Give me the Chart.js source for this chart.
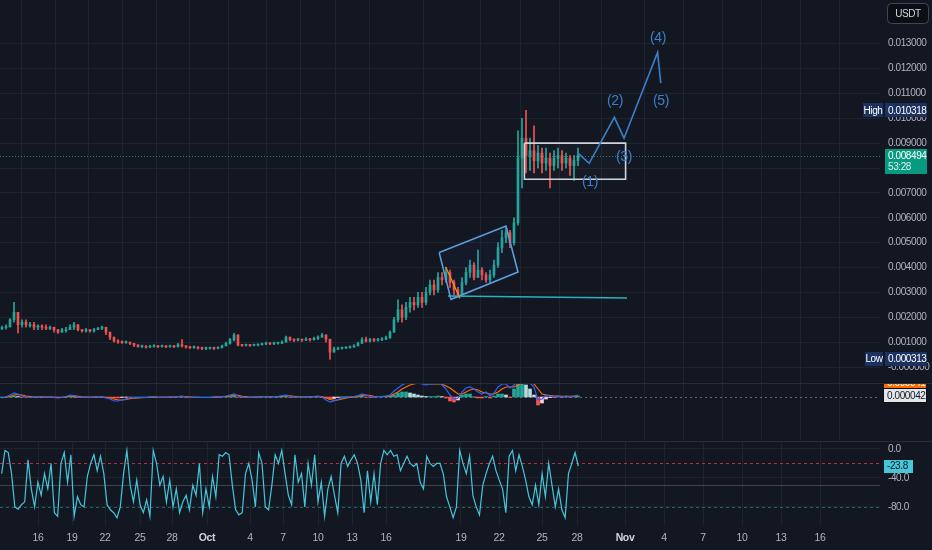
<!DOCTYPE html>
<html>
<head>
<meta charset="utf-8">
<title>USDT chart</title>
<script src="https://cdn.jsdelivr.net/npm/chart.js@4.4.1/dist/chart.umd.min.js"></script>
<style>
html, body { margin: 0; padding: 0; background: #131722; }
#wrap { position: relative; width: 932px; height: 550px; overflow: hidden; background: #131722; }
.pane { position: absolute; left: 0; width: 932px; }
.sep { position: absolute; left: 0; width: 932px; height: 1px; background: #2a2e39; }
</style>
</head>
<body>
<div id="wrap">
  <div class="pane" style="top:0;height:383px"><canvas id="priceChart"></canvas></div>
  <div class="pane" style="top:383px;height:58px"><canvas id="macdChart"></canvas></div>
  <div class="pane" style="top:441px;height:109px"><canvas id="wprChart"></canvas></div>
  <div class="sep" style="top:383px"></div>
  <div class="sep" style="top:441px"></div>
</div>
<script>
// candles, one per bar index (open = previous close)
const firstOpen = 0.00155;
const candleClose = [
  0.00158,0.00162,0.0019,0.0022,0.0017,0.0018,0.0017,0.0017,0.0016,0.00165,
  0.0016,0.00155,0.0016,0.0015,0.0014,0.0015,0.0015,0.0016,0.0017,0.0015,
  0.00145,0.0015,0.00145,0.0015,0.00155,0.0016,0.0014,0.0012,0.00105,0.001,
  0.00098,0.001,0.00095,0.00088,0.00082,0.00083,0.0008,0.00082,0.00085,0.00082,
  0.00084,0.00081,0.00083,0.00082,0.0009,0.00085,0.0008,0.00078,0.0008,0.00076,
  0.00074,0.00075,0.00076,0.00075,0.00078,0.00085,0.00095,0.0011,0.00128,0.00088,
  0.00087,0.00088,0.00087,0.00088,0.0009,0.00092,0.00095,0.00093,0.00095,0.00096,
  0.001,0.0012,0.0011,0.00108,0.0011,0.00108,0.00112,0.0011,0.00115,0.0012,
  0.00128,0.00112,0.0006,0.00072,0.00075,0.00076,0.00078,0.0008,0.00085,0.00095,
  0.0011,0.00105,0.0011,0.00108,0.0011,0.00112,0.00118,0.0014,0.0019,0.0023,
  0.002,0.0024,0.0026,0.0025,0.0028,0.0026,0.003,0.0033,0.0031,0.0036,
  0.0035,0.0038,0.0034,0.0031,0.0029,0.0034,0.0038,0.0041,0.0036,0.0039,
  0.0037,0.0035,0.0037,0.0041,0.0048,0.0052,0.0054,0.005,0.0058,0.0084,
  0.0092,0.0085,0.0087,0.0083,0.0086,0.0082,0.0084,0.0081,0.0084,0.0085,
  0.0082,0.0084,0.0081,0.0083,0.008494
];
const candleHigh = [
  0.00165,0.0017,0.00195,0.0026,0.0022,0.0019,0.0019,0.0018,0.0018,0.0017,
  0.0017,0.0017,0.00165,0.0016,0.0015,0.00155,0.0016,0.0017,0.0018,0.0017,
  0.0015,0.00155,0.0015,0.00155,0.0016,0.00165,0.0016,0.0014,0.0012,0.0011,
  0.00105,0.00105,0.001,0.00095,0.0009,0.00088,0.00086,0.00087,0.0009,0.00087,
  0.00088,0.00086,0.00088,0.00087,0.00095,0.0011,0.00086,0.00083,0.00085,0.00082,
  0.0008,0.0008,0.0008,0.0008,0.00082,0.00088,0.001,0.00115,0.00135,0.0013,
  0.0009,0.00092,0.0009,0.00092,0.00093,0.00096,0.001,0.00098,0.001,0.001,
  0.00105,0.00124,0.0012,0.00113,0.00115,0.00112,0.00118,0.00115,0.0012,0.00125,
  0.00135,0.0013,0.0011,0.0008,0.0008,0.0008,0.00082,0.00085,0.0009,0.001,
  0.00118,0.0012,0.00115,0.00114,0.00115,0.00118,0.00124,0.00145,0.002,0.0027,
  0.0025,0.0026,0.0028,0.0028,0.003,0.003,0.0032,0.0035,0.0035,0.0038,
  0.0038,0.004,0.0039,0.0035,0.0032,0.0036,0.004,0.0043,0.0042,0.0047,
  0.004,0.0038,0.0039,0.0043,0.005,0.0055,0.0056,0.0055,0.006,0.0095,
  0.01,0.010318,0.0092,0.0097,0.0089,0.0088,0.0088,0.0086,0.0087,0.0088,
  0.0087,0.0086,0.0085,0.0085,0.0088
];
const candleLow = [
  0.0015,0.00152,0.0016,0.0018,0.00137,0.0016,0.0016,0.0016,0.0015,0.0015,
  0.0015,0.0015,0.0015,0.0014,0.00135,0.0014,0.0014,0.0015,0.0015,0.00145,
  0.0014,0.0014,0.0014,0.0014,0.0015,0.0015,0.0013,0.0011,0.001,0.00095,
  0.00095,0.00095,0.0009,0.00082,0.0008,0.00078,0.00076,0.00078,0.0008,0.00078,
  0.0008,0.00078,0.0008,0.00078,0.0008,0.0008,0.00076,0.00074,0.00075,0.00072,
  0.0007,0.0007,0.00072,0.0007,0.00073,0.00076,0.00085,0.00092,0.00105,0.00085,
  0.00083,0.00084,0.00083,0.00085,0.00085,0.00088,0.0009,0.0009,0.0009,0.00092,
  0.00094,0.001,0.00105,0.00102,0.00105,0.00103,0.00106,0.00104,0.00108,0.0011,
  0.0012,0.001,0.000313,0.0006,0.0007,0.00072,0.00074,0.00076,0.0008,0.00085,
  0.00095,0.001,0.001,0.00102,0.00104,0.00106,0.0011,0.00115,0.0014,0.0018,
  0.0018,0.0019,0.0022,0.0023,0.0024,0.0024,0.0025,0.0029,0.0029,0.003,
  0.0033,0.0034,0.0032,0.0029,0.0028,0.0029,0.0033,0.0036,0.0035,0.0036,
  0.0035,0.0034,0.0034,0.0036,0.004,0.0046,0.005,0.0048,0.0049,0.0057,
  0.0072,0.0078,0.0079,0.0078,0.008,0.0078,0.0079,0.0072,0.0079,0.008,
  0.0079,0.008,0.0077,0.0075,0.0081
];

// MACD pane, values in 1e-5 USDT
const macdLine = [
  -4,0,8,16,12,4,0,-2,0,2, 0,-2,0,-2,-4,-2,2,8,6,0,
  -2,0,-2,0,2,0,-4,-8,-16,-16, -12,-8,-4,-4,-2,-2,-2,0,0,-2,
  0,-2,0,0,2,4,0,-2,-2,-2, -2,-2,-2,0,0,2,4,8,12,4,
  0,-2,-2,0,0,2,2,0,2,2, 6,8,4,0,0,0,2,0,2,4,
  0,-12,-20,-16,-10,-4,0,0,2,6, 12,8,2,0,2,2,4,8,24,36,
  48,56,60,60,56,52,48,52,52,56, 48,32,8,-8,-4,20,36,40,32,20,
  12,20,4,16,40,52,52,36,48,64, 68,64,56,40,-12,-8,8,4,2,4,
  0,4,2,4,8
];
const signalLine = [
  -2,-1,2,8,10,8,4,2,0,0, 0,0,0,-1,-2,-2,0,4,5,3,
  0,0,-1,0,0,0,-2,-4,-8,-12, -12,-10,-7,-5,-4,-3,-2,-1,0,-1,
  -1,-1,0,0,1,2,1,0,-1,-1, -2,-2,-2,-1,0,1,2,4,8,7,
  3,1,-1,0,0,1,1,1,1,2, 3,5,5,3,1,0,1,1,1,2,
  1,-4,-10,-13,-12,-8,-4,-2,0,2, 6,8,6,3,2,2,3,4,12,20,
  32,40,48,52,56,56,52,52,52,52, 52,44,36,24,12,12,20,28,32,28,
  20,16,12,12,20,32,40,40,40,48, 56,60,60,52,32,12,8,6,4,4,
  3,3,3,3,4
];
const macdHist = [
  0,1,2,4,2,-1,-1,0,0,1, 0,-1,0,-1,-1,0,1,2,1,-1,
  -1,0,-1,0,1,0,-1,-2,-4,-4, -2,-1,-1,0,0,0,0,1,0,-1,
  0,-1,0,0,1,1,-1,-1,0,0, 0,0,0,1,0,1,1,2,4,-1,
  -1,-1,0,0,0,1,1,-1,1,0, 2,2,-1,-1,0,0,1,-1,1,2,
  -1,-4,-8,-6,-2,1,1,1,2,2, 4,-1,-1,-1,0,0,1,4,8,16,
  20,20,16,12,8,4,2,2,2,4, 2,-4,-16,-20,-12,8,12,12,0,-4,
  -4,2,-4,4,12,12,8,-2,32,52, 52,48,32,8,-32,-24,-8,-2,-2,2,
  -2,2,-1,1,4
];
const macdLastLabel = '0.000042';
const macdSignalLabel = '0.000041';

// Williams %R pane
const wpr = [
  -34,-2,-5,-34,-80,-83,-77,-73,-15,-55, -80,-46,-64,-34,-55,-20,-88,-93,-20,-5,
  -46,-8,-93,-66,-77,-80,-38,-20,-8,-30, -10,-34,-77,-84,-88,-95,-80,-34,-2,-50,
  -73,-43,-77,-88,-70,-93,-2,-20,-50,-38, -73,-43,-80,-55,-88,-73,-64,-84,-50,-64,
  -20,-88,-55,-80,-38,-66,-8,-10,-5,-8, -50,-84,-91,-88,-34,-20,-43,-80,-5,-20,
  -80,-84,-50,-8,-20,-2,-34,-64,-77,-8, -46,-34,-80,-20,-50,-8,-73,-46,-93,-55,
  -38,-64,-88,-20,-10,-24,-15,-8,-20,-43, -88,-30,-73,-34,-77,-20,-2,-8,-2,-10,
  -8,-30,-20,-10,-20,-24,-20,-46,-55,-10, -20,-24,-20,-20,-34,-66,-80,-95,-80,-2,
  -20,-34,-10,-64,-80,-91,-50,-34,-20,-10, -30,-43,-55,-88,-10,-2,-30,-8,-24,-43,
  -66,-77,-50,-77,-34,-66,-20,-50,-80,-55, -84,-95,-34,-20,-5,-23.8
];
const wprTicks = [0, -40, -80];
const wprBands = [-20, -50, -80];

// time axis (bar index positions)
const dateLabels = ['16','19','22','25','28','Oct','4','7','10','13','16','19','22','25','28','Nov','4','7','10','13','16'];
const datePos = [9,17.5,25.75,34.5,42.5,51.25,62,70.25,79,87.5,96,114.75,124.25,135,143.75,155.75,165.5,175.25,185,194.75,204.5];
const monthLabels = ['Oct', 'Nov'];

const priceTicks = [-1e-12,0.001,0.002,0.003,0.004,0.005,0.006,0.007,0.008,0.009,0.01,0.011,0.012,0.013];
const countdown = '53:28';

// drawings
const waveX = [144, 146.8, 153.1, 155.5, 163.9, 164.7];
const waveY = [0.0086, 0.00819, 0.01004, 0.0092, 0.01265, 0.01141];
const waveLabels = ['(1)', '(2)', '(3)', '(4)', '(5)'];
const waveLabelX = [147, 153.25, 155.5, 164, 164.75];
const waveLabelY = [0.00744, 0.0107, 0.00842, 0.01323, 0.0107];
const rangeX = [130.6, 155.9];
const rangeY = [0.009, 0.00755];
const channelX = [109.3, 126, 129, 112.25];
const channelY = [0.0046, 0.00567, 0.00382, 0.00272];
const supportX = [111.5, 156.25];
const supportY = [0.002855, 0.002774];
const dropX = [110.9, 114.5];
const dropY = [0.00403, 0.00276];

const FONT = '"Liberation Sans", Arial, sans-serif';
const GRID = '#1f232e';
const UP = '#26a69a', DOWN = '#ef5350';
const WAVE = '#3a80c9';
const NAVY = '#1c3160';
const X_MIN = -0.5, X_MAX = 219.5;

Chart.defaults.font.family = FONT;
Chart.defaults.font.size = 10;
Chart.defaults.color = '#b2b5be';
Chart.defaults.animation = false;

const candleOpen = candleClose.map((c, i) => i ? candleClose[i - 1] : firstOpen);
const candleColor = candleClose.map((c, i) => c >= candleOpen[i] ? UP : DOWN);
const lastPrice = candleClose[candleClose.length - 1];
const highValue = Math.max(...candleHigh);
const lowValue = Math.min(...candleLow);

function pts(xs, ys, close) {
  const p = xs.map((x, i) => ({ x: x, y: ys[i] }));
  if (close) p.push({ x: xs[0], y: ys[0] });
  return p;
}
function rectPts(xs, ys) {
  return [
    { x: xs[0], y: ys[0] }, { x: xs[1], y: ys[0] }, { x: xs[1], y: ys[1] },
    { x: xs[0], y: ys[1] }, { x: xs[0], y: ys[0] }
  ];
}

// tighter letter spacing, closer to the narrow axis font of the original
const tightText = {
  id: 'tightText',
  beforeDraw(chart) { chart.ctx.letterSpacing = '-0.4px'; }
};

function xScale(showLabels) {
  return {
    type: 'linear', min: X_MIN, max: X_MAX, offset: false,
    border: { display: false },
    grid: { color: GRID, drawTicks: false },
    ticks: {
      display: showLabels, padding: 7, autoSkip: false, maxRotation: 0,
      callback: (v, i) => dateLabels[i],
      color: c => monthLabels.includes(dateLabels[c.index]) ? '#d1d4dc' : '#b2b5be',
      font: c => ({ family: FONT, size: 10.5, weight: monthLabels.includes(dateLabels[c.index]) ? 'bold' : 'normal' })
    },
    afterBuildTicks: s => { s.ticks = datePos.map(v => ({ value: v })); },
    afterFit: s => { s.height = showLabels ? 25 : 0; s.paddingLeft = 0; s.paddingRight = 0; }
  };
}
function yScale(min, max, ticks, fmt) {
  return {
    position: 'right', min: min, max: max,
    border: { display: false },
    grid: { color: GRID, drawTicks: false, display: !!ticks },
    ticks: { display: !!ticks, padding: 8, callback: v => fmt ? fmt(v) : '' },
    afterBuildTicks: s => { if (ticks) s.ticks = ticks.map(v => ({ value: v })); },
    afterFit: s => { s.width = 52; s.paddingTop = 0; s.paddingBottom = 0; }
  };
}

function tag(ctx, x, yc, w, h, bg, fg, text, align) {
  ctx.fillStyle = bg;
  ctx.fillRect(x, Math.round(yc - h / 2), w, h);
  ctx.fillStyle = fg;
  ctx.textBaseline = 'middle';
  ctx.textAlign = align || 'left';
  ctx.fillText(text, align === 'center' ? x + w / 2 : x + 3, yc + 0.5);
}

const basePlugins = { legend: { display: false }, tooltip: { enabled: false } };

// ---------- price pane ----------
const mainOverlay = {
  id: 'mainOverlay',
  beforeDatasetsDraw(chart) {
    const { ctx, chartArea: a, scales: { y } } = chart;
    const py = Math.round(y.getPixelForValue(lastPrice)) + 0.5;
    ctx.save();
    ctx.strokeStyle = 'rgba(38,166,154,0.7)';
    ctx.lineWidth = 1;
    ctx.setLineDash([1, 2]);
    ctx.beginPath(); ctx.moveTo(a.left, py); ctx.lineTo(a.right, py); ctx.stroke();
    ctx.restore();
  },
  afterDraw(chart) {
    const { ctx, chartArea: a, scales: { x, y } } = chart;
    const R = a.right;
    ctx.save();
    ctx.font = '14px ' + FONT;
    ctx.fillStyle = WAVE;
    ctx.textAlign = 'center';
    ctx.textBaseline = 'middle';
    waveLabels.forEach((t, k) => {
      ctx.fillText(t, x.getPixelForValue(waveLabelX[k]), y.getPixelForValue(waveLabelY[k]));
    });

    ctx.font = '10px ' + FONT;
    const hy = y.getPixelForValue(highValue);
    tag(ctx, R - 17, hy, 20, 14, NAVY, '#ffffff', 'High', 'center');
    tag(ctx, R + 5, hy, 42, 14, NAVY, '#ffffff', highValue.toFixed(6));
    const ly = y.getPixelForValue(lowValue);
    tag(ctx, R - 15, ly, 18, 14, NAVY, '#ffffff', 'Low', 'center');
    tag(ctx, R + 5, ly, 42, 14, NAVY, '#ffffff', lowValue.toFixed(6));

    const py = y.getPixelForValue(lastPrice);
    ctx.fillStyle = '#089981';
    ctx.fillRect(R + 5, Math.round(py - 7), 42, 25);
    ctx.fillStyle = '#ffffff';
    ctx.textAlign = 'left';
    ctx.fillText(lastPrice.toFixed(6), R + 8, py + 0.5);
    ctx.fillStyle = '#d8f3ee';
    ctx.fillText(countdown, R + 8, py + 11.5);

    // currency box
    ctx.fillStyle = '#0c0e15';
    ctx.strokeStyle = '#434651';
    ctx.lineWidth = 1;
    ctx.beginPath();
    ctx.roundRect(R + 7.5, 3.5, 41, 20, 4);
    ctx.fill(); ctx.stroke();
    ctx.fillStyle = '#d1d4dc';
    ctx.textAlign = 'center';
    ctx.font = '10px ' + FONT;
    ctx.fillText('USDT', R + 28, 14);
    ctx.restore();
  }
};

new Chart(document.getElementById('priceChart'), {
  type: 'bar',
  data: {
    datasets: [
      { type: 'line', data: pts(waveX, waveY), borderColor: WAVE, borderWidth: 1.6, pointRadius: 0, tension: 0, fill: false, order: 0 },
      { type: 'line', data: rectPts(rangeX, rangeY), borderColor: '#d1d4dc', borderWidth: 1.6, pointRadius: 0, tension: 0,
        fill: 'shape', backgroundColor: 'rgba(255,255,255,0.02)', order: 1 },
      { type: 'line', data: pts(channelX, channelY, true), borderColor: '#5b9fdc', borderWidth: 1.6, pointRadius: 0, tension: 0,
        fill: 'shape', backgroundColor: 'rgba(41,98,255,0.04)', order: 1 },
      { type: 'line', data: pts(supportX, supportY), borderColor: '#27b3bd', borderWidth: 1.6, pointRadius: 0, tension: 0, fill: false, order: 1 },
      { type: 'line', data: pts(dropX, dropY), borderColor: '#ff9800', borderWidth: 1.2, pointRadius: 0, tension: 0, fill: false, order: 2 },
      { type: 'bar', data: candleClose.map((c, i) => ({ x: i, y: [candleOpen[i], c] })),
        backgroundColor: candleColor, barThickness: 2, minBarLength: 1, grouped: false, order: 5 },
      { type: 'bar', data: candleClose.map((c, i) => ({ x: i, y: [candleLow[i], candleHigh[i]] })),
        backgroundColor: candleColor, barThickness: 1, grouped: false, order: 6 }
    ]
  },
  options: {
    responsive: true, maintainAspectRatio: false, animation: false,
    layout: { padding: 0 },
    plugins: basePlugins,
    scales: {
      x: xScale(false),
      y: yScale(-16 / 24870, 367 / 24870, priceTicks, v => v.toFixed(6))
    }
  },
  plugins: [tightText, mainOverlay]
});

// ---------- MACD pane ----------
const histColor = macdHist.map((h, i) => {
  const prev = i ? macdHist[i - 1] : 0;
  if (h >= 0) return h >= prev ? '#26a69a' : '#b2dfdb';
  return h <= prev ? '#ff5252' : '#ffcdd2';
});
const macdOverlay = {
  id: 'macdOverlay',
  beforeDatasetsDraw(chart) {
    const { ctx, chartArea: a, scales: { y } } = chart;
    const zy = Math.round(y.getPixelForValue(0)) + 0.5;
    ctx.save();
    ctx.strokeStyle = 'rgba(120,123,134,0.8)';
    ctx.setLineDash([2, 3]);
    ctx.beginPath(); ctx.moveTo(a.left, zy); ctx.lineTo(a.right, zy); ctx.stroke();
    ctx.restore();
  },
  afterDraw(chart) {
    const { ctx, chartArea: a, scales: { y } } = chart;
    const R = a.right;
    ctx.save();
    ctx.font = '10px ' + FONT;
    const wy = y.getPixelForValue(4.2);
    tag(ctx, R + 4, wy - 13, 42, 13, '#ff6d00', '#ffffff', macdSignalLabel);
    ctx.fillStyle = '#0b0d13';
    ctx.fillRect(R + 3, Math.round(wy - 7.5), 44, 15);
    tag(ctx, R + 4, wy, 42, 13, '#e3e6ea', '#131722', macdLastLabel);
    ctx.restore();
  }
};
new Chart(document.getElementById('macdChart'), {
  type: 'bar',
  data: {
    datasets: [
      { type: 'line', data: macdLine.map((v, i) => ({ x: i, y: v })), borderColor: '#2962ff', borderWidth: 1.2, pointRadius: 0, tension: 0, order: 0 },
      { type: 'line', data: signalLine.map((v, i) => ({ x: i, y: v })), borderColor: '#ff6d00', borderWidth: 1.2, pointRadius: 0, tension: 0, order: 1 },
      { type: 'bar', data: macdHist.map((v, i) => ({ x: i, y: v })), backgroundColor: histColor, barThickness: 3, grouped: false, order: 2 }
    ]
  },
  options: {
    responsive: true, maintainAspectRatio: false, animation: false,
    layout: { padding: 0 },
    plugins: basePlugins,
    scales: { x: xScale(false), y: yScale(-176, 56, null, null) }
  },
  plugins: [tightText, macdOverlay]
});

// ---------- Williams %R pane ----------
const wprStep = candleClose.length / wpr.length;
const wprOverlay = {
  id: 'wprOverlay',
  beforeDatasetsDraw(chart) {
    const { ctx, chartArea: a, scales: { y } } = chart;
    const styles = [
      { c: 'rgba(242,54,69,0.75)', d: [3, 3] },
      { c: 'rgba(120,123,134,0.45)', d: [] },
      { c: 'rgba(38,166,154,0.55)', d: [3, 3] }
    ];
    ctx.save();
    wprBands.forEach((b, k) => {
      const by = Math.round(y.getPixelForValue(b)) + 0.5;
      ctx.strokeStyle = styles[k].c;
      ctx.setLineDash(styles[k].d);
      ctx.beginPath(); ctx.moveTo(a.left, by); ctx.lineTo(a.right, by); ctx.stroke();
    });
    ctx.restore();
  },
  afterDraw(chart) {
    const { ctx, chartArea: a, scales: { y } } = chart;
    const last = wpr[wpr.length - 1];
    ctx.save();
    ctx.font = '10px ' + FONT;
    tag(ctx, a.right + 4, y.getPixelForValue(last), 29, 13, '#45c6d9', '#131722', last.toFixed(1));
    ctx.restore();
  }
};
new Chart(document.getElementById('wprChart'), {
  type: 'line',
  data: {
    datasets: [
      { data: wpr.map((v, j) => ({ x: (j + 0.5) * wprStep - 0.5, y: v })), borderColor: '#45c6d9', borderWidth: 1.2, pointRadius: 0, tension: 0 }
    ]
  },
  options: {
    responsive: true, maintainAspectRatio: false, animation: false,
    layout: { padding: 0 },
    plugins: basePlugins,
    scales: { x: xScale(true), y: yScale(-105, 11, wprTicks, v => v.toFixed(1)) }
  },
  plugins: [tightText, wprOverlay]
});
</script>
</body>
</html>
